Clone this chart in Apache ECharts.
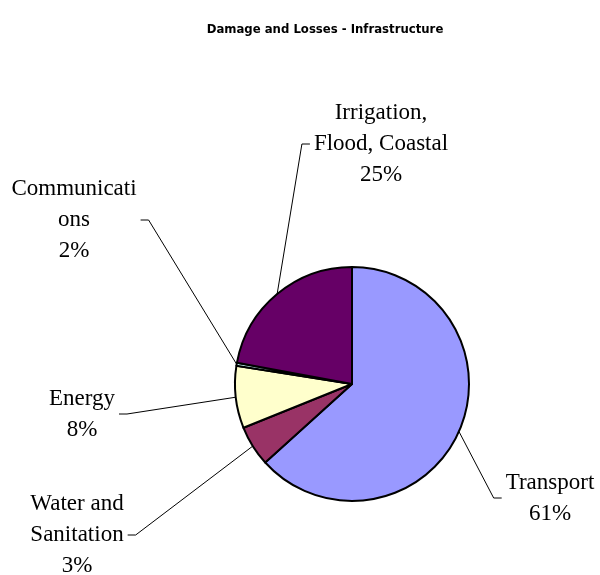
<!DOCTYPE html>
<html>
<head>
<meta charset="utf-8">
<script src="https://cdn.jsdelivr.net/npm/echarts@6/dist/echarts.min.js"></script>
<style>
  html, body { margin: 0; padding: 0; background: #ffffff; }
  #chart { width: 600px; height: 575px; }
</style>
</head>
<body>
<div id="chart"></div>
<script>
// ---- data ----
const categories = ['Transport', 'Water and Sanitation', 'Energy', 'Communications', 'Irrigation, Flood, Coastal'];
const shares = [63.3, 5.6, 8.6, 0.4, 22.1];           // slice sizes
const labelTexts = ['Transport', 'Water and\nSanitation', 'Energy', 'Communicati\nons', 'Irrigation,\nFlood, Coastal'];
const percentLabels = ['61%', '3%', '8%', '2%', '25%'];  // percentages printed on the chart

// ---- styles / layout ----
const sliceColors = ['#9999FF', '#993366', '#FFFFCC', '#CCFFFF', '#660066'];
const labelPlacement = [
  { x: 550, y: 498, side: 'left' },
  { x: 77,  y: 535, side: 'right' },
  { x: 82,  y: 414, side: 'right' },
  { x: 74,  y: 220, side: 'right' },
  { x: 381, y: 144, side: 'left' }
];

const chart = echarts.init(document.getElementById('chart'), null, { renderer: 'canvas' });

const pieData = categories.map((name, i) => ({
  name: name,
  value: shares[i],
  itemStyle: { color: sliceColors[i] }
}));

chart.setOption({
  backgroundColor: '#ffffff',
  animation: false,
  title: {
    text: 'Damage and Losses - Infrastructure',
    left: 325,
    top: 23,
    padding: 0,
    textAlign: 'center',
    textStyle: {
      fontFamily: '"DejaVu Sans Condensed", "Liberation Sans Narrow", sans-serif',
      fontSize: 13,
      fontWeight: 'bold',
      color: '#000'
    }
  },
  series: [{
    type: 'pie',
    center: [352, 384],
    radius: 117,
    startAngle: 90,
    clockwise: true,
    avoidLabelOverlap: false,
    minShowLabelAngle: 0,
    emphasis: { disabled: true },
    itemStyle: { borderColor: '#000', borderWidth: 2 },
    label: {
      show: true,
      position: 'outside',
      formatter: (p) => labelTexts[p.dataIndex] + '\n' + percentLabels[p.dataIndex],
      fontFamily: '"Liberation Serif", "DejaVu Serif", serif',
      fontSize: 23,
      lineHeight: 31,
      color: '#000',
      align: 'center'
    },
    labelLine: {
      show: true,
      length: 20,
      length2: 10,
      smooth: false,
      lineStyle: { color: '#000', width: 1 }
    },
    labelLayout: function (params) {
      const i = params.dataIndex;
      const pl = labelPlacement[i];
      const w = params.labelRect ? params.labelRect.width : 0;
      const gap = 4, hseg = 8;
      const edgeX = pl.side === 'left' ? pl.x - w / 2 - gap : pl.x + w / 2 + gap;
      const midX = pl.side === 'left' ? edgeX - hseg : edgeX + hseg;
      const res = { x: pl.x, y: pl.y, align: 'center', verticalAlign: 'middle' };
      if (params.labelLinePoints && params.labelLinePoints[0]) {
        const p0 = params.labelLinePoints[0];
        res.labelLinePoints = [[p0[0], p0[1]], [midX, pl.y], [edgeX, pl.y]];
      }
      return res;
    },
    data: pieData
  }]
});
</script>
</body>
</html>
